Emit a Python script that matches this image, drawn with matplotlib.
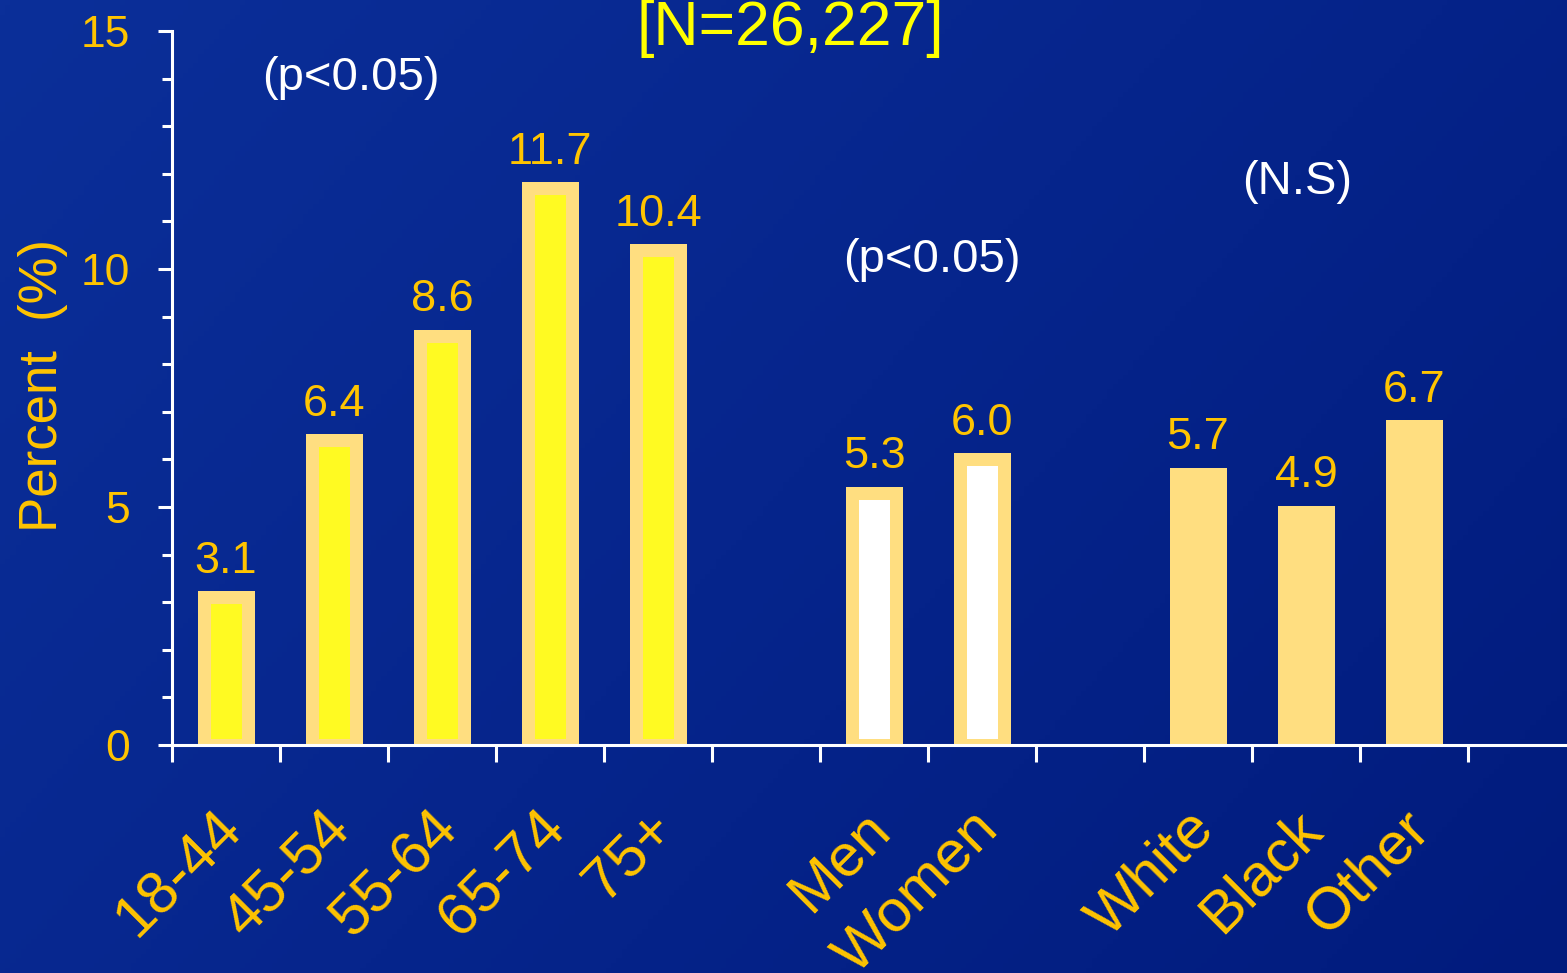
import numpy as np
import matplotlib
matplotlib.use("Agg")
import matplotlib.pyplot as plt
from matplotlib.colors import LinearSegmentedColormap
from matplotlib.ticker import MultipleLocator, FixedLocator, NullFormatter

# ---- data ----
categories = ["18-44", "45-54", "55-64", "65-74", "75+",
              "Men", "Women", "White", "Black", "Other"]
values = [3.1, 6.4, 8.6, 11.7, 10.4, 5.3, 6.0, 5.7, 4.9, 6.7]
slots = [0, 1, 2, 3, 4, 6, 7, 9, 10, 11]
groups = ["age", "age", "age", "age", "age", "sex", "sex", "race", "race", "race"]
y_ticks = [0, 5, 10, 15]
title_text = "[N=26,227]"
notes = [("(p<0.05)", 1.16, 13.76), ("(p<0.05)", 6.54, 9.94), ("(N.S)", 9.92, 11.58)]

# ---- style ----
W, H, DPI = 1567, 973, 100
plt.rcParams['font.family'] = ['Liberation Sans', 'DejaVu Sans']
edge_col = "#FFDE80"
face_cols = {"age": "#FFFA22", "sex": "#FFFFFF", "race": "#FFDE80"}
txt_col = "#FFC400"

fig = plt.figure(figsize=(W / DPI, H / DPI), dpi=DPI)

# background gradient
bg = fig.add_axes([0, 0, 1, 1], zorder=-10)
gx, gy = np.meshgrid(np.linspace(0, 1, 300), np.linspace(0, 1, 200))
grad = 0.65 * gx + 0.35 * gy
cmap = LinearSegmentedColormap.from_list("bg", ["#0B2F99", "#06258C", "#011B7D"])
bg.imshow(grad, cmap=cmap, aspect="auto", extent=[0, 1, 0, 1], origin="upper")
bg.axis("off")

ax = fig.add_axes([172 / W, (H - 745) / H, 1 - 172 / W, 714 / H])
ax.patch.set_alpha(0)

lw_px = 13
bar_w = 44 / 108
for s, v, g in zip(slots, values, groups):
    ax.bar(s, v, width=bar_w, color=face_cols[g], edgecolor=edge_col,
           linewidth=lw_px * 72 / DPI, zorder=2)
    ax.annotate(f"{v:.1f}", xy=(s, v), xytext=(0, 17.5), textcoords="offset points",
                ha="center", va="baseline", fontsize=32.5, color=txt_col, zorder=3)

ax.set_xlim(-0.5, -0.5 + (W - 172) / 108)
ax.set_ylim(0, 15)

for sp in ["top", "right"]:
    ax.spines[sp].set_visible(False)
for sp in ["left", "bottom"]:
    ax.spines[sp].set_color("white")
    ax.spines[sp].set_linewidth(2.2)
    ax.spines[sp].set_zorder(4)

ax.yaxis.set_major_locator(FixedLocator(y_ticks))
ax.yaxis.set_minor_locator(MultipleLocator(1))
ax.tick_params(axis="y", which="major", direction="out", length=10, width=2.2,
               color="white", labelsize=32, labelcolor=txt_col, pad=20)
ax.tick_params(axis="y", which="minor", direction="out", length=7.5, width=2.2,
               color="white")
ax.xaxis.set_major_locator(FixedLocator(np.arange(-0.5, 12.6, 1.0)))
ax.xaxis.set_major_formatter(NullFormatter())
ax.tick_params(axis="x", which="major", direction="out", length=12, width=2.2,
               color="white")

for s, c in zip(slots, categories):
    ax.annotate(c, xy=(s, 0), xycoords=("data", "axes fraction"),
                xytext=(-9, -40), textcoords="offset points",
                rotation=45, rotation_mode="anchor", ha="right", va="top",
                fontsize=43, color=txt_col, annotation_clip=False)

for t, x, y in notes:
    ax.text(x, y, t, ha="center", va="baseline", fontsize=34, color="white")

fig.text(43.5 / W, 1 - 386 / H, "Percent  (%)", rotation=90, ha="center", va="center",
         fontsize=38, color=txt_col)
fig.text(790 / W, 1 - 45 / H, title_text, ha="center", va="baseline",
         fontsize=45, color="#FFFF00")

fig.savefig("out.png", dpi=DPI)
